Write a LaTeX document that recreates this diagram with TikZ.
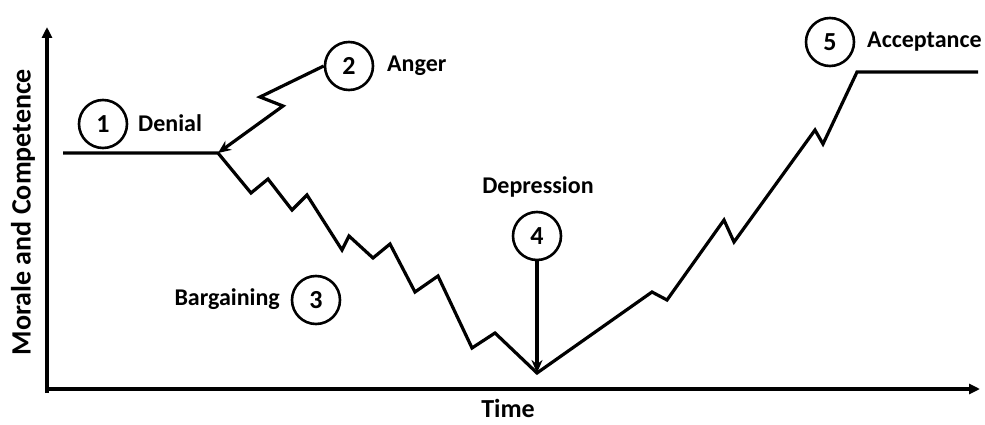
\documentclass[tikz,border=0pt]{standalone}
\usepackage{fontspec}
\setmainfont{Carlito}
\usetikzlibrary{arrows.meta}
\begin{document}
\begin{tikzpicture}[x=1pt,y=-1pt,
  lbl/.style={font=\bfseries\fontsize{24}{26}\selectfont, inner sep=0pt},
  axlbl/.style={font=\bfseries\fontsize{28}{30}\selectfont, inner sep=0pt},
  stage/.style={circle, draw, line width=2.6pt, minimum size=48pt, inner sep=0pt, font=\bfseries\fontsize{26}{28}\selectfont},
  curve/.style={line width=3.2pt, line join=miter},
  axis/.style={line width=3.4pt, -{Triangle[length=11pt,width=10pt]}},
  pointer/.style={line width=3.2pt, -{Stealth[length=13pt,width=11pt]}}]
\useasboundingbox (0,0) rectangle (985,425);
% axes
\coordinate (O) at (47,389);
\coordinate (Ytop) at (47,27);
\coordinate (Xend) at (980,389);
\draw[axis] (47,393) -- (Ytop);
\draw[axis] (O) -- (Xend);
\node[axlbl, rotate=90] (ylab) at (23,212) {Morale and Competence};
\node[axlbl, font=\bfseries\fontsize{26}{28}\selectfont, anchor=base] (xlab) at (508,417) {Time};
% stages
\node[stage] (s1) at (103,124) {1};
\node[lbl, anchor=west] (t1) at (138,123) {Denial};
\node[stage] (s2) at (349,66) {2};
\node[lbl, anchor=west] (t2) at (387,66) {Anger};
\node[stage] (s3) at (316,300) {3};
\node[lbl, anchor=east] (t3) at (280,299) {Bargaining};
\node[stage] (s4) at (537,236) {4};
\node[lbl] (t4) at (538,187) {Depression};
\node[stage] (s5) at (830,42) {5};
\node[lbl, anchor=west] (t5) at (867,42) {Acceptance};
% key points
\coordinate (d0) at (63,153);
\coordinate (d1) at (218,153);
\coordinate (bottom) at (537,373);
\coordinate (a0) at (857,72);
\coordinate (a1) at (978,72);
% main curve
\draw[curve] (d0) -- (d1) -- (251,193) -- (268,179) -- (292,210) -- (307,195)
  -- (342,250) -- (349,236) -- (373,258) -- (390,244) -- (415,292) -- (438,276)
  -- (472,348) -- (495,333) -- (bottom) -- (652,292) -- (667,300) -- (724,220)
  -- (734,242) -- (815,130) -- (823,144) -- (a0) -- (a1);
% anger arrow
\draw[pointer] (s2.west) -- (260,97) -- (283,106) -- (d1);
% depression arrow
\draw[pointer] (s4.south) -- (bottom);
\end{tikzpicture}
\end{document}
